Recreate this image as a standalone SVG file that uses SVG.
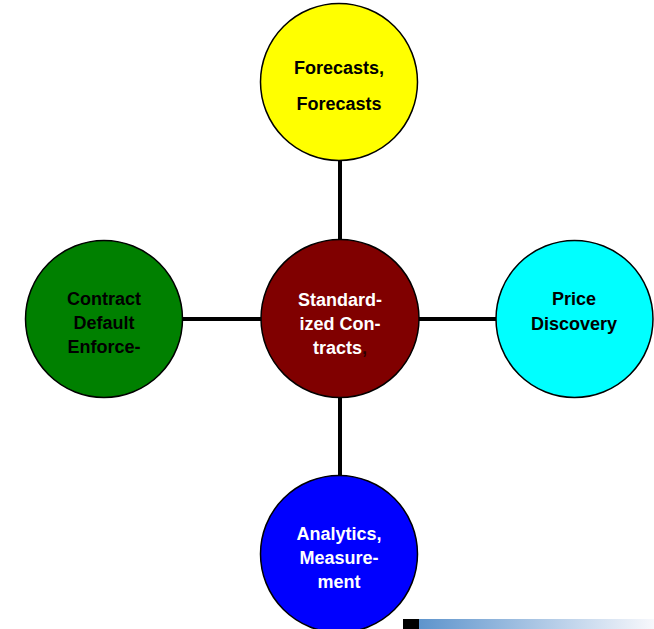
<svg xmlns="http://www.w3.org/2000/svg" width="654" height="629" viewBox="0 0 654 629">
<style>
.n{stroke:#000;stroke-width:1.5}
.t{font-family:"Liberation Sans",Arial,sans-serif;font-weight:bold;font-size:18px;text-anchor:middle}
.k{fill:#000}
.w{fill:#fff}
.c{stroke:#000;stroke-width:4;fill:none}
</style>
<defs>
<linearGradient id="g" x1="0" y1="0" x2="1" y2="0">
<stop offset="0" stop-color="#5e94cc"/>
<stop offset="1" stop-color="#f7f8fc"/>
</linearGradient>
</defs>
<rect width="654" height="629" fill="#fff"/>
<g id="connectors">
<line class="c" x1="340" y1="160" x2="340" y2="240"/>
<line class="c" x1="340" y1="397" x2="340" y2="476"/>
<line class="c" x1="183" y1="319" x2="261" y2="319"/>
<line class="c" x1="419" y1="319" x2="496" y2="319"/>
</g>
<g id="forecasts">
<circle class="n" cx="339" cy="82" r="78.5" fill="#ffff00"/>
<text class="t k" x="339" y="74">Forecasts,</text>
<text class="t k" x="339" y="110">Forecasts</text>
</g>
<g id="standardized">
<circle class="n" cx="340" cy="318.5" r="79" fill="#800000"/>
<text class="t w" x="340" y="306">Standard-</text>
<text class="t w" x="340" y="330">ized Con-</text>
<text class="t w" x="340" y="354">tracts<tspan fill="#2a0000">,</tspan></text>
</g>
<g id="contract">
<circle class="n" cx="104" cy="319" r="78.5" fill="#008000"/>
<text class="t k" x="104" y="305">Contract</text>
<text class="t k" x="104" y="329">Default</text>
<text class="t k" x="104" y="353">Enforce-</text>
</g>
<g id="price">
<circle class="n" cx="574.5" cy="319" r="78.5" fill="#00ffff"/>
<text class="t k" x="574" y="305">Price</text>
<text class="t k" x="574" y="330">Discovery</text>
</g>
<g id="analytics">
<circle class="n" cx="339" cy="554" r="78.5" fill="#0000ff"/>
<text class="t w" x="339" y="540">Analytics,</text>
<text class="t w" x="339" y="564">Measure-</text>
<text class="t w" x="339" y="588">ment</text>
</g>
<rect x="403" y="619" width="16" height="10" fill="#000"/>
<rect x="419" y="619" width="235" height="10" fill="url(#g)"/>
</svg>
